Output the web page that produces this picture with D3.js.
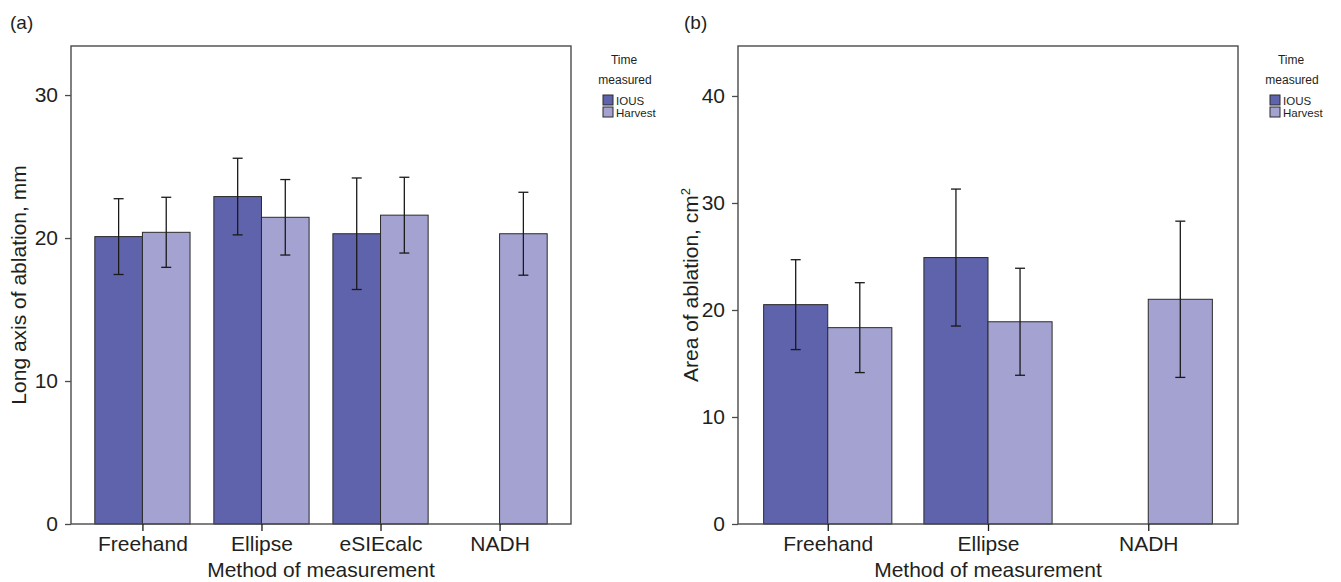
<!DOCTYPE html>
<html>
<head>
<meta charset="utf-8">
<script src="https://cdn.jsdelivr.net/npm/d3@7"></script>
<style>
  body { margin: 0; background: #fff; }
  text { font-family: "Liberation Sans", Arial, sans-serif; fill: #231f20; }
</style>
</head>
<body>
<div id="chart"></div>
<script>
// panel (a): long axis
const categoriesA = ["Freehand", "Ellipse", "eSIEcalc", "NADH"];
const iousA = [20.1, 22.9, 20.3, null];
const iousErrA = [2.65, 2.68, 3.9, null];
const harvestA = [20.4, 21.45, 21.6, 20.3];
const harvestErrA = [2.45, 2.64, 2.65, 2.9];
const ticksA = [0, 10, 20, 30];

// panel (b): area
const categoriesB = ["Freehand", "Ellipse", "NADH"];
const iousB = [20.5, 24.9, null];
const iousErrB = [4.2, 6.4, null];
const harvestB = [18.35, 18.9, 21.0];
const harvestErrB = [4.2, 5.0, 7.3];
const ticksB = [0, 10, 20, 30, 40];

const seriesNames = ["IOUS", "Harvest"];
const seriesColors = ["#5f63ab", "#a3a2d0"];

const svg = d3.select("#chart").append("svg")
    .attr("width", 1341)
    .attr("height", 582);

function drawPanel(o) {
    const g = svg.append("g");

    const x0 = d3.scalePoint()
        .domain(o.categories)
        .range([o.left, o.right])
        .padding(o.pad);

    const bw = x0.step() * 0.4;
    const x1 = d3.scaleBand()
        .domain(seriesNames)
        .range([-bw, bw]);

    const y = d3.scaleLinear()
        .domain([0, o.yMax])
        .range([o.bottom, o.top]);

    const color = d3.scaleOrdinal().domain(seriesNames).range(seriesColors);

    // flatten into bar records, skip missing values
    const rows = [];
    o.categories.forEach((c, i) => {
        if (o.ious[i] != null) rows.push({ cat: c, s: "IOUS", v: o.ious[i], e: o.iousErr[i] });
        if (o.harvest[i] != null) rows.push({ cat: c, s: "Harvest", v: o.harvest[i], e: o.harvestErr[i] });
    });

    g.selectAll("rect.bar")
        .data(rows)
        .enter()
        .append("rect")
        .attr("class", "bar")
        .attr("x", d => x0(d.cat) + x1(d.s))
        .attr("y", d => y(d.v))
        .attr("width", x1.bandwidth())
        .attr("height", d => y(0) - y(d.v))
        .attr("fill", d => color(d.s))
        .attr("stroke", "#2b2b2b")
        .attr("stroke-width", 1);

    // error bars
    const cap = 5;
    const eb = g.selectAll("g.err")
        .data(rows)
        .enter()
        .append("g")
        .attr("class", "err")
        .attr("stroke", "#1a1a1a")
        .attr("stroke-width", 1.3);
    const cx = d => x0(d.cat) + x1(d.s) + x1.bandwidth() / 2;
    eb.append("line")
        .attr("x1", cx).attr("x2", cx)
        .attr("y1", d => y(d.v + d.e)).attr("y2", d => y(d.v - d.e));
    eb.append("line")
        .attr("x1", d => cx(d) - cap).attr("x2", d => cx(d) + cap)
        .attr("y1", d => y(d.v + d.e)).attr("y2", d => y(d.v + d.e));
    eb.append("line")
        .attr("x1", d => cx(d) - cap).attr("x2", d => cx(d) + cap)
        .attr("y1", d => y(d.v - d.e)).attr("y2", d => y(d.v - d.e));

    // frame
    g.append("rect")
        .attr("x", o.left)
        .attr("y", o.top)
        .attr("width", o.right - o.left)
        .attr("height", o.bottom - o.top)
        .attr("fill", "none")
        .attr("stroke", "#4a4a4a")
        .attr("stroke-width", 1.4);

    // axes
    const yAxis = g.append("g")
        .attr("transform", `translate(${o.left},0)`)
        .call(d3.axisLeft(y).tickValues(o.ticks).tickSize(6).tickPadding(7));
    yAxis.select(".domain").remove();
    yAxis.selectAll("line").attr("stroke", "#4a4a4a").attr("stroke-width", 1.3);
    yAxis.selectAll("text").style("font-size", "21px").attr("fill", "#231f20");

    const xAxis = g.append("g")
        .attr("transform", `translate(0,${o.bottom})`)
        .call(d3.axisBottom(x0).tickSize(7).tickPadding(5));
    xAxis.select(".domain").remove();
    xAxis.selectAll("line").attr("stroke", "#1a1a1a").attr("stroke-width", 1.3);
    xAxis.selectAll("text").style("font-size", "21px").attr("fill", "#231f20");

    // axis titles
    g.append("text")
        .attr("x", (o.left + o.right) / 2)
        .attr("y", 577)
        .attr("text-anchor", "middle")
        .style("font-size", "21px")
        .text("Method of measurement");

    const yt = g.append("text")
        .attr("transform", `translate(${o.yTitleX},${(o.top + o.bottom) / 2}) rotate(-90)`)
        .attr("text-anchor", "middle")
        .style("font-size", "21px")
        .text(o.yTitle);
    if (o.yTitleSup) {
        yt.append("tspan")
            .attr("dy", -8)
            .style("font-size", "13px")
            .text(o.yTitleSup);
    }

    // panel letter
    g.append("text")
        .attr("x", o.labelX)
        .attr("y", 29)
        .style("font-size", "19px")
        .text(o.label);

    // legend
    const lg = g.append("g");
    lg.append("text")
        .attr("x", o.legX + 21)
        .attr("y", 64)
        .attr("text-anchor", "middle")
        .style("font-size", "12px")
        .text("Time");
    lg.append("text")
        .attr("x", o.legX + 22)
        .attr("y", 84)
        .attr("text-anchor", "middle")
        .style("font-size", "12px")
        .text("measured");
    seriesNames.forEach((s, i) => {
        lg.append("rect")
            .attr("x", o.legX)
            .attr("y", 95 + i * 12)
            .attr("width", 10)
            .attr("height", 10)
            .attr("fill", color(s))
            .attr("stroke", "#2b2b2b")
            .attr("stroke-width", 1);
        lg.append("text")
            .attr("x", o.legX + 13)
            .attr("y", 104.5 + i * 12)
            .style("font-size", "11.5px")
            .text(s);
    });
}

drawPanel({
    categories: categoriesA, ious: iousA, iousErr: iousErrA,
    harvest: harvestA, harvestErr: harvestErrA, ticks: ticksA,
    left: 71, right: 571, top: 46, bottom: 524, pad: 0.6, yMax: 33.43,
    yTitle: "Long axis of ablation, mm", yTitleX: 26,
    label: "(a)", labelX: 10, legX: 603
});

drawPanel({
    categories: categoriesB, ious: iousB, iousErr: iousErrB,
    harvest: harvestB, harvestErr: harvestErrB, ticks: ticksB,
    left: 738, right: 1238, top: 46, bottom: 524, pad: 0.56, yMax: 44.67,
    yTitle: "Area of ablation, cm", yTitleSup: "2", yTitleX: 698,
    label: "(b)", labelX: 684, legX: 1270
});
</script>
</body>
</html>
